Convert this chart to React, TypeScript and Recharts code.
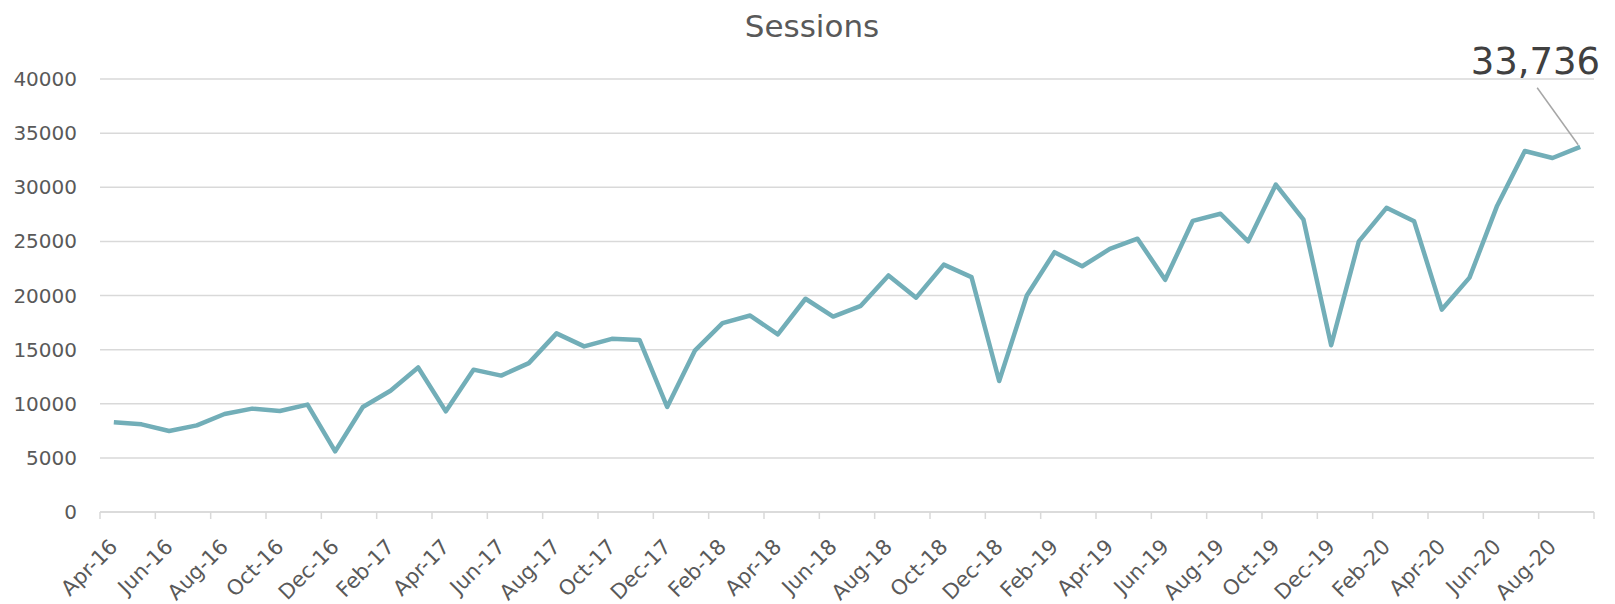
import React from 'react';
import { LineChart, Line, XAxis, YAxis, CartesianGrid, LabelList } from 'recharts';

const months = [
  'Apr-16', 'May-16', 'Jun-16', 'Jul-16', 'Aug-16', 'Sep-16', 'Oct-16', 'Nov-16', 'Dec-16',
  'Jan-17', 'Feb-17', 'Mar-17', 'Apr-17', 'May-17', 'Jun-17', 'Jul-17', 'Aug-17', 'Sep-17', 'Oct-17', 'Nov-17', 'Dec-17',
  'Jan-18', 'Feb-18', 'Mar-18', 'Apr-18', 'May-18', 'Jun-18', 'Jul-18', 'Aug-18', 'Sep-18', 'Oct-18', 'Nov-18', 'Dec-18',
  'Jan-19', 'Feb-19', 'Mar-19', 'Apr-19', 'May-19', 'Jun-19', 'Jul-19', 'Aug-19', 'Sep-19', 'Oct-19', 'Nov-19', 'Dec-19',
  'Jan-20', 'Feb-20', 'Mar-20', 'Apr-20', 'May-20', 'Jun-20', 'Jul-20', 'Aug-20', 'Sep-20',
];

const sessions = [
  8300, 8100, 7480, 8000, 9050, 9550, 9330, 9920, 5600,
  9700, 11200, 13350, 9300, 13150, 12600, 13750, 16500, 15300, 16000, 15900, 9700,
  14900, 17450, 18150, 16400, 19700, 18050, 19050, 21850, 19800, 22850, 21700, 12100,
  20000, 24000, 22700, 24300, 25250, 21450, 26900, 27550, 25000, 30250, 27000, 15400,
  25000, 28100, 26850, 18700, 21650, 28300, 33350, 32700, 33736,
];

const yTicks = [0, 5000, 10000, 15000, 20000, 25000, 30000, 35000, 40000];

const W = 1615;
const H = 604;
const PLOT_LEFT = 100;
const PLOT_RIGHT = 1594;
const STEP = (PLOT_RIGHT - PLOT_LEFT) / months.length;

const FONT = '"Century Gothic", "DejaVu Sans", sans-serif';
const GRID = '#d9d9d9';
const TEXT = '#595959';
const LINE = '#72aeb8';

const chartData = months.map((month, i) => ({ month, sessions: sessions[i] }));

// category labels sit at the month centre, tick marks between months (Excel style)
function XTick(props: any) {
  const { x, y, payload } = props;
  const tx = x + 5;
  const ty = y + 36;
  const isLast = payload.value === months[months.length - 2];
  return (
    <g>
      <line x1={x - STEP / 2} x2={x - STEP / 2} y1={y} y2={y + 7} stroke={GRID} strokeWidth={1.5} />
      {isLast && (
        <line x1={x + STEP * 1.5} x2={x + STEP * 1.5} y1={y} y2={y + 7} stroke={GRID} strokeWidth={1.5} />
      )}
      <text
        x={tx}
        y={ty}
        textAnchor="end"
        fill={TEXT}
        fontSize={21}
        fontFamily={FONT}
        transform={`rotate(-45, ${tx}, ${ty})`}
      >
        {payload.value}
      </text>
    </g>
  );
}

function LastLabel(props: any) {
  const { x, y, index } = props;
  if (index !== sessions.length - 1) return null;
  return (
    <g>
      <line x1={x - 43} y1={y - 59} x2={x - 2} y2={y - 2} stroke="#a6a6a6" strokeWidth={1.5} />
      <text x={x + 20} y={y - 73} textAnchor="end" fill="#404040" fontSize={37} fontFamily={FONT}>
        {sessions[index].toLocaleString('en-US')}
      </text>
    </g>
  );
}

export default function App() {
  return (
    <div style={{ position: 'absolute', left: 0, top: 0, width: W, height: H, background: '#fff' }}>
      <svg width={W} height={60} style={{ position: 'absolute', left: 0, top: 0 }}>
        <text x={812} y={37} textAnchor="middle" fill={TEXT} fontSize={31} fontFamily={FONT}>
          Sessions
        </text>
      </svg>
      <div style={{ position: 'absolute', left: 0, top: 0 }}>
        <LineChart width={W} height={H} data={chartData} margin={{ top: 79, right: W - PLOT_RIGHT, left: 0, bottom: 0 }}>
          <CartesianGrid vertical={false} stroke={GRID} strokeWidth={1.5} />
          <XAxis
            dataKey="month"
            interval={1}
            height={92}
            padding={{ left: STEP / 2, right: STEP / 2 }}
            axisLine={{ stroke: GRID, strokeWidth: 1.5 }}
            tickLine={false}
            tickSize={0}
            tickMargin={0}
            tick={<XTick />}
          />
          <YAxis
            width={PLOT_LEFT}
            domain={[0, 40000]}
            ticks={yTicks}
            axisLine={false}
            tickLine={false}
            tickSize={0}
            tickMargin={23}
            tick={{ fill: TEXT, fontSize: 20, fontFamily: FONT }}
          />
          <Line
            type="linear"
            dataKey="sessions"
            stroke={LINE}
            strokeWidth={4.5}
            strokeLinejoin="round"
            dot={false}
            isAnimationActive={false}
          >
            <LabelList dataKey="sessions" content={<LastLabel />} />
          </Line>
        </LineChart>
      </div>
    </div>
  );
}
